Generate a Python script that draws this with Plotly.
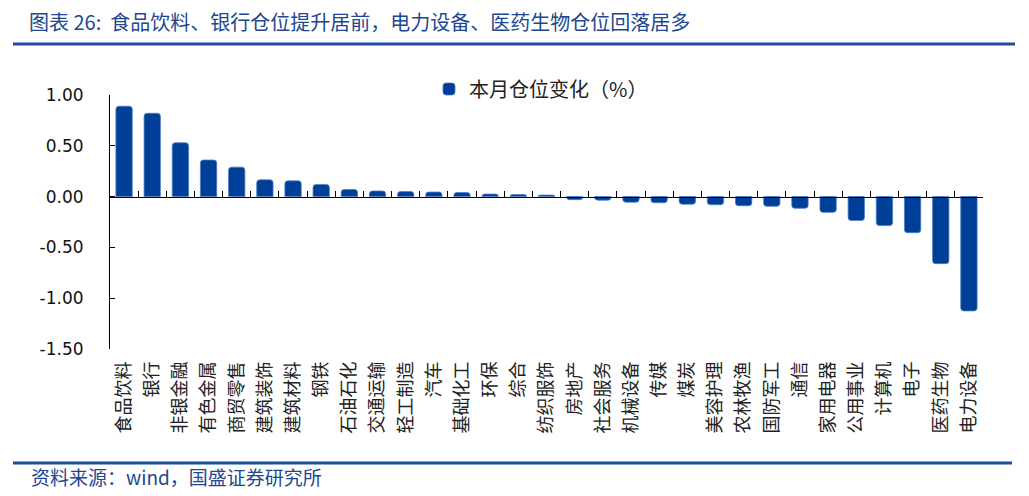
import plotly.graph_objects as go

categories = ["食品饮料", "银行", "非银金融", "有色金属", "商贸零售", "建筑装饰", "建筑材料", "钢铁",
              "石油石化", "交通运输", "轻工制造", "汽车", "基础化工", "环保", "综合", "纺织服饰",
              "房地产", "社会服务", "机械设备", "传媒", "煤炭", "美容护理", "农林牧渔", "国防军工",
              "通信", "家用电器", "公用事业", "计算机", "电子", "医药生物", "电力设备"]
values = [0.89, 0.82, 0.53, 0.36, 0.29, 0.165, 0.155, 0.12,
          0.07, 0.055, 0.05, 0.045, 0.04, 0.025, 0.02, 0.015,
          -0.03, -0.035, -0.055, -0.06, -0.075, -0.08, -0.09, -0.095,
          -0.115, -0.155, -0.235, -0.285, -0.355, -0.66, -1.125]
series_name = "本月仓位变化（%）"
y_ticks = [1.0, 0.5, 0.0, -0.5, -1.0, -1.5]
y_tick_text = ["1.00", "0.50", "0.00", "-0.50", "-1.00", "-1.50"]
title_text = "图表 26:  食品饮料、银行仓位提升居前，电力设备、医药生物仓位回落居多"
source_text = "资料来源：wind，国盛证券研究所"

W, H = 1029, 496
L, R, T, B = 110, 46, 95, 147
PW = W - L - R
PH = H - T - B

BAR = "#003F98"
BLUE = "#1D4E9E"
CJK = "Noto Sans CJK SC"

fig = go.Figure()
fig.add_trace(go.Bar(
    x=categories, y=values, name=series_name,
    marker=dict(color=BAR, line=dict(color="#4f7cc2", width=0.8), cornerradius=3),
    width=0.58, showlegend=True, hoverinfo="x+y",
))
# invisible helper trace for the category axis drawn at zero
fig.add_trace(go.Scatter(
    x=categories, y=[0] * len(categories), xaxis="x2", yaxis="y",
    mode="markers", marker=dict(opacity=0), showlegend=False, hoverinfo="skip",
))

zero_pos = (0 - (-1.5)) / (1.0 - (-1.5))

fig.update_layout(
    width=W, height=H,
    margin=dict(l=L, r=R, t=T, b=B, pad=0),
    paper_bgcolor="white", plot_bgcolor="white",
    font=dict(family=CJK, color="#222222"),
    title=dict(text=title_text, x=29 / W, xanchor="left", xref="container",
               y=1 - 23 / H, yanchor="middle", yref="container",
               font=dict(family=CJK, size=20, color="#22468F")),
    xaxis=dict(
        range=[-0.5, len(categories) - 0.5], showline=False, ticks="",
        showgrid=False, zeroline=False, tickangle=-90,
        tickfont=dict(family=CJK, size=18, color="#222222"),
        ticklabelstandoff=8,
    ),
    xaxis2=dict(
        overlaying="x", anchor="free", position=zero_pos, side="bottom",
        range=[-0.5, len(categories) - 0.5], showline=True, linecolor="#000000",
        linewidth=1, ticks="inside", ticklen=6, tickcolor="#000000", tickwidth=1,
        tickson="boundaries", showticklabels=False, showgrid=False, zeroline=False,
    ),
    yaxis=dict(
        range=[-1.5, 1.0], tickvals=y_ticks, ticktext=y_tick_text,
        showline=True, linecolor="#000000", linewidth=1,
        ticks="inside", ticklen=5, tickcolor="#000000",
        showgrid=False, zeroline=False,
        tickfont=dict(family="DejaVu Sans", size=17, color="#111111"),
        ticklabelstandoff=22,
    ),
    legend=dict(
        x=(469 - 40 - L) / PW, xanchor="left", y=1 + (T - 89) / PH, yanchor="middle",
        font=dict(family=CJK, size=20, color="#222222"),
        bgcolor="rgba(0,0,0,0)", itemwidth=30,
    ),
    shapes=[
        dict(type="line", xref="paper", yref="paper",
             x0=(13 - L) / PW, x1=(1015 - L) / PW, y0=(H - B - 44) / PH, y1=(H - B - 44) / PH,
             line=dict(color=BLUE, width=3)),
        dict(type="line", xref="paper", yref="paper",
             x0=(13 - L) / PW, x1=(1012 - L) / PW, y0=(H - B - 463) / PH, y1=(H - B - 463) / PH,
             line=dict(color=BLUE, width=3)),
    ],
    annotations=[
        dict(text=source_text, xref="paper", yref="paper",
             x=(29 - L) / PW, y=(H - B - 476) / PH, xanchor="left", yanchor="middle",
             showarrow=False, font=dict(family=CJK, size=19, color="#22468F")),
    ],
)

fig.write_html("out.html", config={"displayModeBar": False},
               post_script="document.body.style.margin='0';")
